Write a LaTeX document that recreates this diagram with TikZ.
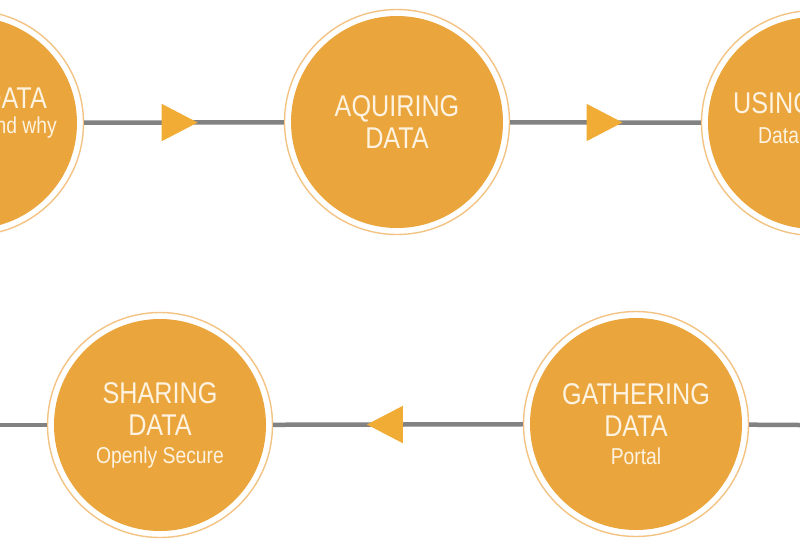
\documentclass[tikz,border=0pt]{standalone}
\usepackage{fontspec}
\setmainfont{Liberation Sans}[FakeStretch=0.84]
\usepackage{tikz}
\usetikzlibrary{shapes.geometric, positioning}
\definecolor{StepOrange}{HTML}{EBA53D}
\definecolor{StepRing}{HTML}{F3C383}
\definecolor{StepTip}{HTML}{F1AC36}
\definecolor{StepLine}{HTML}{828282}
\definecolor{StepText}{HTML}{FDF3E0}
\tikzset{
    stepcircle/.style={
        circle,
        draw=StepRing,
        line width=1.4pt,
        fill=white,
        minimum size=225pt,
        inner sep=0pt,
        text=StepText,
        align=center,
        font=\fontsize{30}{32}\selectfont,
        path picture={\fill[StepOrange] (path picture bounding box.center) circle (106pt);}
    },
    steptitle/.style={
        text=StepText,
        inner sep=0pt,
        font=\fontsize{30}{32}\selectfont
    },
    stepsub/.style={
        text=StepText,
        inner sep=0pt,
        font=\fontsize{23}{26}\selectfont
    },
    link/.style={
        StepLine,
        line width=4.5pt
    },
    tip/.style={
        isosceles triangle,
        isosceles triangle apex angle=55,
        shape border rotate=#1,
        fill=StepTip,
        minimum height=36pt,
        inner sep=0pt
    },
    tip/.default=0
}
\newcommand{\substep}[1]{\\[-4pt]{\fontsize{23}{26}\selectfont #1}}

\begin{document}
\begin{tikzpicture}[x=1pt, y=-1pt]
        \useasboundingbox (0,0) rectangle (800,550);
        \clip (0,0) rectangle (800,550);

        % Top row
        \node[stepcircle] (need) at (-29,123) {};
        \node[steptitle, anchor=base east] (needtitle) at (47,108) {DATA};
        \node[stepsub, anchor=base east] (needsub) at (57,133) {and why};

        \node[stepcircle] (aquire) at (397,122) {AQUIRING\\DATA};

        \node[stepcircle] (use) at (814,123) {};
        \node[steptitle, anchor=base west] (usetitle) at (733,113) {USING};
        \node[stepsub, anchor=base west] (usesub) at (758,143) {Data};

        % Bottom row
        \node[stepcircle] (share) at (160,425) {SHARING\\DATA\substep{Openly Secure}};
        \node[stepcircle] (gather) at (636,424) {GATHERING\\DATA\substep{Portal}};
        \coordinate (leftend) at (0,425);
        \coordinate (rightend) at (800,425);

        % Connectors
        \draw[link] (need) -- node[tip, pos=0.445] (tipa) {} (aquire);
        \draw[link] (aquire) -- node[tip, pos=0.46] (tipb) {} (use);
        \draw[link] (gather) -- node[tip=180, pos=0.526] (tipc) {} (share);
        \draw[link] (leftend) -- (share);
        \draw[link] (gather) -- (rightend);
\end{tikzpicture}
\end{document}
